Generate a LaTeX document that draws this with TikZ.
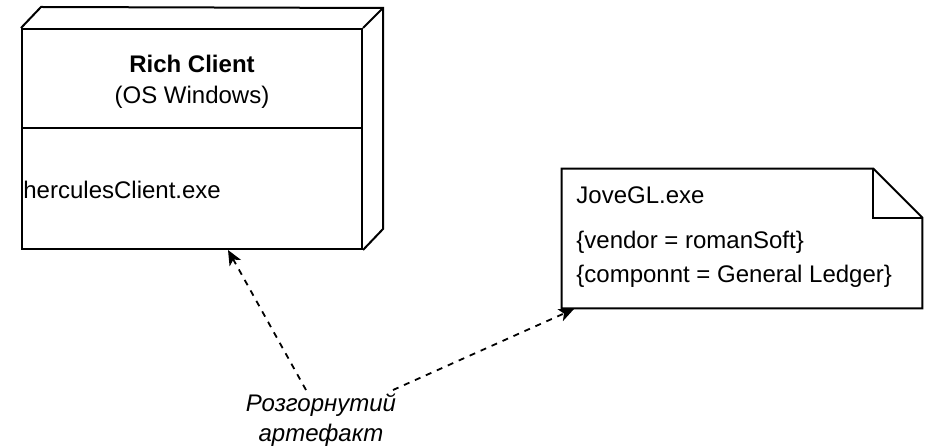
\documentclass[tikz,border=0pt]{standalone}
\usepackage{fontspec}
\setmainfont{Liberation Sans}
\usetikzlibrary{arrows.meta,calc}
\begin{document}
\begin{tikzpicture}[x=0.5pt,y=-0.5pt,
  box/.style={draw, line width=1pt, inner sep=0pt},
  txt/.style={inner sep=0pt, font=\fontsize{12pt}{15pt}\selectfont},
  dep/.style={line width=0.9pt, dash pattern=on 3pt off 3pt, -{Stealth[length=7.5pt,width=6.5pt,inset=2pt]}}]
\useasboundingbox (0,0) rectangle (932,448);
% 3D node
\node[box, minimum width=170pt, minimum height=110pt] (rc) at (192,139) {};
\draw[line width=1pt, line join=miter] (rc.north west) -- ++(20,-21) -- (383,8) -- (383,229) -- (rc.south east);
\draw[line width=1pt] (rc.north east) -- (383,8);
\draw[line width=1pt] (rc.west |- 0,128) -- (rc.east |- 0,128);
\node[txt, font=\fontsize{12pt}{15pt}\selectfont\bfseries] (title) at (192,64) {Rich Client};
\node[txt] (os) at (192,97) {(OS Windows)};
\node[txt, anchor=west] (exe) at (23,190) {herculesClient.exe};
% note
\node[inner sep=0pt, minimum width=180pt, minimum height=69.5pt] (note) at (742,238.5) {};
\draw[line width=1pt, line join=miter] (note.south west) -- (note.north west) -- ($(note.north east)+(-49,0)$) -- ($(note.north east)+(0,49)$) -- (note.south east) -- cycle;
\draw[line width=1pt] ($(note.north east)+(-49,0)$) -- ($(note.north east)+(-49,49)$) -- ($(note.north east)+(0,49)$);
\node[txt, anchor=west] (jove) at (576,195) {JoveGL.exe};
\node[txt, anchor=west] (vend) at (576,242) {\{vendor = romanSoft\}};
\node[txt, anchor=west] (comp) at (576,276) {\{componnt = General Ledger\}};
% label
\node[txt, align=center, font=\fontsize{12pt}{15pt}\selectfont\itshape] (lbl) at (321,420) {Розгорнутий\\артефакт};
\coordinate (s1) at (306,390);
\coordinate (s2) at (393,390);
\coordinate (t1) at (228,250);
\coordinate (t2) at (574,309);
\draw[dep] (s1) -- (t1);
\draw[dep] (s2) -- (t2);
\end{tikzpicture}
\end{document}
